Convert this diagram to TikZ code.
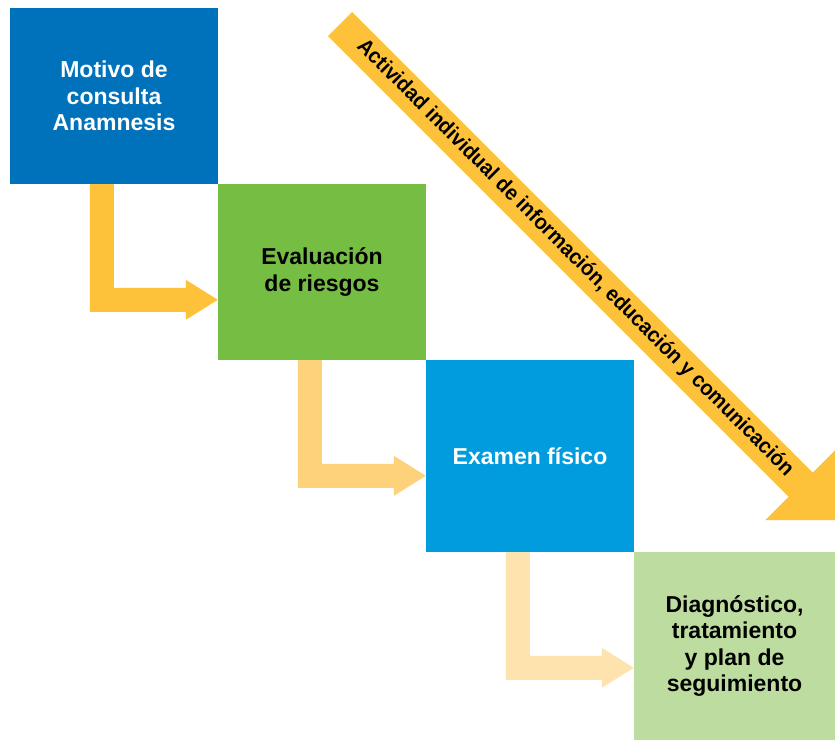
\documentclass[tikz,border=0pt]{standalone}
\usepackage{fontspec}
\setmainfont{Liberation Sans}
\usetikzlibrary{calc}
\definecolor{boxA}{RGB}{0,114,188}
\definecolor{boxB}{RGB}{118,190,67}
\definecolor{boxC}{RGB}{0,156,222}
\definecolor{boxD}{RGB}{189,220,159}
\definecolor{arrA}{RGB}{254,194,58}
\definecolor{arrB}{RGB}{254,210,122}
\definecolor{arrC}{RGB}{255,227,174}
\newcommand\elbowarrow[3]{%
  \coordinate (#1-start) at ($(#1.south west)+(80,0)$);
  \coordinate (#2-end) at ($(#2.north west)+(0,116)$);
  \fill[#3] (#1-start) -- ++(24,0) |- ($(#2-end)+(-32,-12)$) -- ++(0,-8) -- (#2-end)
    -- ++(-32,20) -- ++(0,-8) -| (#1-start) -- cycle;
}
\begin{document}
\begin{tikzpicture}[x=1pt,y=-1pt,
  stepbox/.style={rectangle, inner sep=0pt, align=center, font=\bfseries\fontsize{23}{26.5}\selectfont},
  diagtext/.style={font=\bfseries\fontsize{21.5}{24}\selectfont, text=black, inner sep=0pt}]
\fill[white] (0,0) rectangle (835,740);
\useasboundingbox (0,0) rectangle (835,740);
\node[stepbox, fill=boxA, text=white, minimum width=208pt, minimum height=176pt] (motivo) at (114,96) {Motivo de\\consulta\\Anamnesis};
\node[stepbox, fill=boxB, text=black, minimum width=208pt, minimum height=176pt] (eval) at (322,272) {Evaluación\\de riesgos};
\node[stepbox, fill=boxC, text=white, minimum width=208pt, minimum height=192pt] (examen) at (530,456) {Examen físico};
\node[stepbox, fill=boxD, text=black, minimum width=201pt, minimum height=188pt] (diag) at (734.5,646) {Diagnóstico,\\tratamiento\\y plan de\\seguimiento};
\elbowarrow{motivo}{eval}{arrA}
\elbowarrow{eval}{examen}{arrB}
\elbowarrow{examen}{diag}{arrC}
% diagonal arrow
\fill[arrA] (352.02,11.98) -- (812.66,472.62) -- (836,449.28) -- (836,520) -- (765.28,520) -- (788.62,496.66) -- (327.98,36.02) -- cycle;
\node[diagtext, rotate=-45] (actividad) at (575,258) {\scalebox{0.935}[1]{Actividad individual de información, educación y comunicación}};
\end{tikzpicture}
\end{document}
